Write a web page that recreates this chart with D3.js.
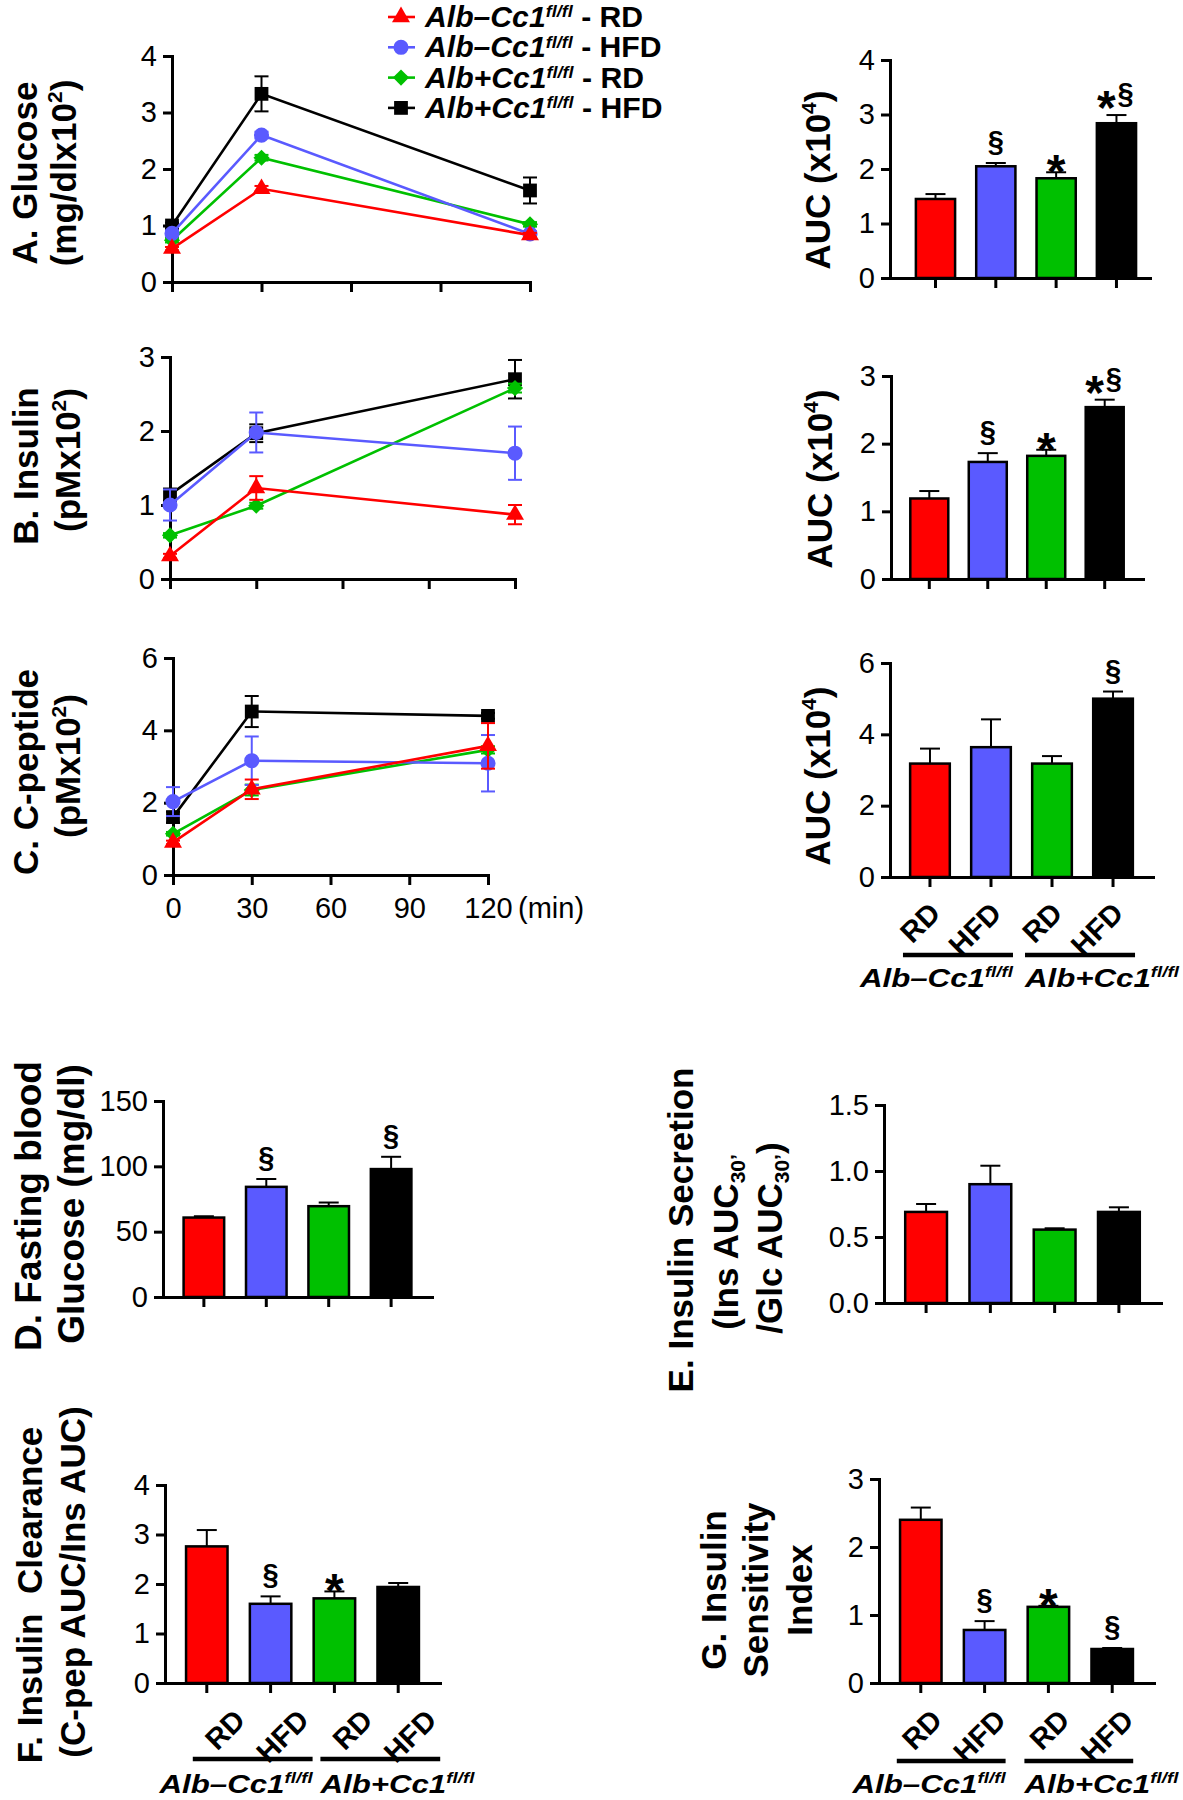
<!DOCTYPE html>
<html><head><meta charset="utf-8">
<script src="https://cdn.jsdelivr.net/npm/d3@7"></script>
<style>
body{margin:0;background:#fff}
svg{display:block;background:#fff}
text{font-family:"Liberation Sans", Arial, Helvetica, sans-serif; white-space:pre}
</style>
</head><body>
<svg id="chart" width="1183" height="1800"></svg>
<script>
// ---------------- DATA ----------------
const times = [0, 30, 120];
const timeTicks = [0, 30, 60, 90, 120];
const seriesGeno = ["Alb–Cc1", "Alb–Cc1", "Alb+Cc1", "Alb+Cc1"];
const seriesDiet = ["RD", "HFD", "RD", "HFD"];
const seriesColors = ["#ff0000", "#5a5aff", "#00c000", "#000000"];
const seriesSymbols = ["triangle", "circle", "diamond", "square"];
const drawOrder = [3, 2, 1, 0];
const groupLabels = ["Alb–Cc1", "Alb+Cc1"];
const groupSup = "fl/fl";

// A. Glucose (mg/dl x10^2)
const glucoseMean = [[0.59, 1.65, 0.83], [0.86, 2.60, 0.85], [0.74, 2.20, 1.02], [1.00, 3.33, 1.62]];
const glucoseSem  = [[0.03, 0.05, 0.04], [0.05, 0.06, 0.05], [0.04, 0.05, 0.04], [0.05, 0.31, 0.23]];
// B. Insulin (pM x10^2)
const insulinMean = [[0.31, 1.23, 0.87], [1.00, 1.98, 1.70], [0.59, 0.99, 2.58], [1.14, 1.97, 2.70]];
const insulinSem  = [[0.03, 0.16, 0.13], [0.21, 0.27, 0.36], [0.03, 0.04, 0.06], [0.08, 0.12, 0.26]];
// C. C-peptide (pM x10^2)
const cpepMean = [[0.90, 2.37, 3.57], [2.03, 3.16, 3.09], [1.14, 2.35, 3.46], [1.60, 4.52, 4.40]];
const cpepSem  = [[0.05, 0.27, 0.63], [0.40, 0.67, 0.78], [0.05, 0.15, 0.10], [0.15, 0.43, 0.08]];

// AUC bars (x10^4)
const aucGlucose = [1.45, 2.05, 1.83, 2.84];
const aucGlucoseSem = [0.09, 0.06, 0.11, 0.15];
const aucGlucoseSig = ["", "§", "*", "*§"];
const aucInsulin = [1.19, 1.73, 1.82, 2.54];
const aucInsulinSem = [0.11, 0.13, 0.09, 0.11];
const aucInsulinSig = ["", "§", "*", "*§"];
const aucCpep = [3.18, 3.64, 3.18, 5.00];
const aucCpepSem = [0.42, 0.78, 0.21, 0.20];
const aucCpepSig = ["", "", "", "§"];
// D. Fasting blood glucose (mg/dl)
const fastingGlucose = [60.8, 84.3, 69.5, 97.9];
const fastingGlucoseSem = [1.0, 6.0, 2.8, 9.4];
const fastingGlucoseSig = ["", "§", "", "§"];
// E. Insulin secretion
const insSecretion = [0.69, 0.90, 0.556, 0.69];
const insSecretionSem = [0.06, 0.14, 0.01, 0.035];
const insSecretionSig = ["", "", "", ""];
// F. Insulin clearance
const insClearance = [2.76, 1.60, 1.71, 1.94];
const insClearanceSem = [0.33, 0.15, 0.14, 0.08];
const insClearanceSig = ["", "§", "*", ""];
// G. Insulin sensitivity index
const insSensitivity = [2.40, 0.78, 1.12, 0.50];
const insSensitivitySem = [0.18, 0.13, 0.015, 0.015];
const insSensitivitySig = ["", "§", "*", "§"];

// ---------------- DRAWING ----------------
const FONT = "'Liberation Sans', Arial, Helvetica, sans-serif";
const TICK_FONT = 29;
const svg = d3.select("#chart");

const diamondType = { draw(ctx, size) { const r = Math.sqrt(size / 2); ctx.moveTo(0, -r); ctx.lineTo(r, 0); ctx.lineTo(0, r); ctx.lineTo(-r, 0); ctx.closePath(); } };
const symbolTypes = { triangle: d3.symbolTriangle, circle: d3.symbolCircle, diamond: diamondType, square: d3.symbolSquare };
const symbolSizes = { triangle: 140, circle: 180, diamond: 130, square: 190 };

function richText(parent, parts, o) {
  let tr = `translate(${o.x},${o.y})`;
  if (o.sx) tr += ` scale(${o.sx},1)`;
  if (o.rot) tr += ` rotate(${o.rot})`;
  const t = parent.append("text").attr("transform", tr)
    .attr("text-anchor", o.anchor || "middle")
    .attr("font-size", o.size).attr("font-weight", o.weight || "bold")
    .attr("font-style", o.italic ? "italic" : "normal")
    .attr("font-family", FONT).attr("fill", "#000");
  let shift = 0;
  const supShift = o.supShift || 0.4;
  parts.forEach(p => {
    const s = t.append("tspan").text(p.t);
    let target = 0;
    if (p.sup) { s.attr("font-size", o.size * 0.6); target = -o.size * supShift; }
    else if (p.sub) { s.attr("font-size", o.size * 0.6); target = o.size * 0.2; }
    if (target !== shift) { s.attr("dy", target - shift); shift = target; }
    if (p.italic !== undefined) s.attr("font-style", p.italic ? "italic" : "normal");
  });
  return t;
}

function styleAxis(sel) {
  sel.attr("font-size", TICK_FONT).attr("font-family", FONT);
  sel.select(".domain").attr("stroke", "#000").attr("stroke-width", 3).attr("stroke-linecap", "square");
  sel.selectAll(".tick line").attr("stroke", "#000").attr("stroke-width", 3);
  sel.selectAll(".tick text").attr("fill", "#000");
}

function lineChart(o) {
  const g = svg.append("g");
  const x = d3.scaleLinear().domain([0, 120]).range([o.x0, o.x1]);
  const y = d3.scaleLinear().domain([0, o.ymax]).range([o.yb, o.yt]);
  g.append("g").attr("transform", `translate(0,${o.yb})`)
    .call(d3.axisBottom(x).tickValues(timeTicks).tickSize(10).tickSizeOuter(0).tickPadding(12)
      .tickFormat(o.xlabels ? d3.format("d") : () => ""))
    .call(styleAxis);
  g.append("g").attr("transform", `translate(${o.x0},0)`)
    .call(d3.axisLeft(y).tickValues(o.yticks).tickSize(9).tickSizeOuter(0).tickPadding(6).tickFormat(d3.format("d")))
    .call(styleAxis);
  if (o.xlabels) {
    g.append("text").attr("x", x(120) + 30).attr("y", o.yb + 43)
      .attr("font-size", TICK_FONT).attr("font-family", FONT).text("(min)");
  }
  const line = d3.line().x(d => x(d.t)).y(d => y(d.v));
  drawOrder.forEach(i => {
    const pts = times.map((t, k) => ({ t, v: o.mean[i][k], e: o.sem[i][k] }));
    const col = seriesColors[i];
    const sg = g.append("g");
    sg.append("path").datum(pts).attr("d", line).attr("fill", "none").attr("stroke", col).attr("stroke-width", 2.6);
    pts.forEach(p => {
      const cx = x(p.t), y1 = y(p.v + p.e), y2 = y(p.v - p.e);
      sg.append("line").attr("x1", cx).attr("x2", cx).attr("y1", y1).attr("y2", y2).attr("stroke", col).attr("stroke-width", 2);
      [y1, y2].forEach(yy => sg.append("line").attr("x1", cx - 7).attr("x2", cx + 7).attr("y1", yy).attr("y2", yy).attr("stroke", col).attr("stroke-width", 2));
    });
    const sym = d3.symbol().type(symbolTypes[seriesSymbols[i]]).size(symbolSizes[seriesSymbols[i]]);
    sg.selectAll("path.pt").data(pts).join("path").attr("class", "pt")
      .attr("transform", d => `translate(${x(d.t)},${y(d.v)})`).attr("d", sym).attr("fill", col);
  });
}

function barChart(o) {
  const g = svg.append("g");
  const x = d3.scaleBand().domain(d3.range(o.vals.length)).range([o.x0, o.x1])
    .paddingInner(0.35).paddingOuter(0.33).align(o.align || 0.5);
  const y = d3.scaleLinear().domain([0, o.ymax]).range([o.yb, o.yt]);
  const bw = x.bandwidth();
  const cx = i => x(i) + bw / 2;
  // error bars (up only)
  o.vals.forEach((v, i) => {
    const yt = y(v + o.sem[i]);
    g.append("line").attr("x1", cx(i)).attr("x2", cx(i)).attr("y1", y(v)).attr("y2", yt).attr("stroke", "#000").attr("stroke-width", 2);
    g.append("line").attr("x1", cx(i) - 10).attr("x2", cx(i) + 10).attr("y1", yt).attr("y2", yt).attr("stroke", "#000").attr("stroke-width", 2);
  });
  g.selectAll("rect").data(o.vals).join("rect")
    .attr("x", (d, i) => x(i)).attr("width", bw)
    .attr("y", d => y(d)).attr("height", d => o.yb - y(d))
    .attr("fill", (d, i) => seriesColors[i]).attr("stroke", "#000").attr("stroke-width", 2.5);
  g.append("g").attr("transform", `translate(0,${o.yb})`)
    .call(d3.axisBottom(x).tickSize(10).tickSizeOuter(0).tickFormat(() => ""))
    .call(styleAxis)
    .call(s => s.selectAll(".tick").attr("transform", (d) => `translate(${cx(d)},0)`));
  g.append("g").attr("transform", `translate(${o.x0},0)`)
    .call(d3.axisLeft(y).tickValues(o.yticks).tickSize(9).tickSizeOuter(0).tickPadding(6).tickFormat(d3.format(o.fmt || "d")))
    .call(styleAxis);
  // significance marks
  o.sig.forEach((s, i) => {
    if (!s) return;
    const et = y(o.vals[i] + o.sem[i]);
    const chars = s.split("");
    const pair = chars.length === 2;
    chars.forEach((c, k) => {
      const dx = pair ? (k === 0 ? -10 : 9) : 0;
      const yy = c === "*" ? (pair ? et + 9 : et + 16) : et - 12;
      g.append("text").attr("x", cx(i) + dx).attr("y", yy)
        .attr("text-anchor", "middle").attr("font-family", FONT).attr("font-weight", "bold")
        .attr("font-size", c === "*" ? 48 : 29).text(c);
    });
  });
  if (o.cats) {
    o.vals.forEach((v, i) => {
      g.append("text").attr("transform", `translate(${cx(i) + o.labDx},${o.yb + o.labDy}) rotate(-45)`)
        .attr("text-anchor", "end").attr("font-family", FONT).attr("font-weight", "bold")
        .attr("font-size", 29).text(seriesDiet[i]);
    });
    [0, 1].forEach(gi => {
      const xa = cx(2 * gi) + o.lineL, xb = cx(2 * gi + 1) + o.lineR, ly = o.yb + o.lineDy;
      g.append("line").attr("x1", xa).attr("x2", xb).attr("y1", ly).attr("y2", ly).attr("stroke", "#000").attr("stroke-width", 4.5);
      richText(g, [{ t: groupLabels[gi] }, { t: groupSup, sup: true }],
        { x: gi === 0 ? xb : xa, y: o.yb + 110, size: 25, italic: true, anchor: gi === 0 ? "end" : "start", sx: 1.25 });
    });
  }
}

// Legend
seriesGeno.forEach((geno, i) => {
  const cy = 17 + i * 30.3;
  const lg = svg.append("g");
  lg.append("line").attr("x1", 388).attr("x2", 415).attr("y1", cy).attr("y2", cy).attr("stroke", seriesColors[i]).attr("stroke-width", 2.6);
  lg.append("path").attr("transform", `translate(401,${cy})`)
    .attr("d", d3.symbol().type(symbolTypes[seriesSymbols[i]]).size(symbolSizes[seriesSymbols[i]])())
    .attr("fill", seriesColors[i]);
  richText(lg, [{ t: geno, italic: true }, { t: "fl/fl", sup: true, italic: true }, { t: " - " + seriesDiet[i], italic: false }],
    { x: 425, y: cy + 10, size: 29, anchor: "start", italic: true, sx: 1.04, supShift: 0.33 });
});

// Line charts
lineChart({ x0: 172, x1: 530, yt: 56, yb: 282, ymax: 4, yticks: [0, 1, 2, 3, 4], mean: glucoseMean, sem: glucoseSem });
lineChart({ x0: 170, x1: 515, yt: 357, yb: 579, ymax: 3, yticks: [0, 1, 2, 3], mean: insulinMean, sem: insulinSem });
lineChart({ x0: 173, x1: 488, yt: 658, yb: 875, ymax: 6, yticks: [0, 2, 4, 6], mean: cpepMean, sem: cpepSem, xlabels: true });

// Bar charts
barChart({ x0: 890, x1: 1150, yt: 60, yb: 278, ymax: 4, yticks: [0, 1, 2, 3, 4], vals: aucGlucose, sem: aucGlucoseSem, sig: aucGlucoseSig, align: 0.65 });
barChart({ x0: 891, x1: 1143, yt: 376, yb: 579, ymax: 3, yticks: [0, 1, 2, 3], vals: aucInsulin, sem: aucInsulinSem, sig: aucInsulinSig });
barChart({ x0: 890, x1: 1153, yt: 663, yb: 877, ymax: 6, yticks: [0, 2, 4, 6], vals: aucCpep, sem: aucCpepSem, sig: aucCpepSig,
  cats: true, labDx: 12, labDy: 38, lineL: -27, lineR: 22, lineDy: 78 });
barChart({ x0: 163, x1: 432, yt: 1101, yb: 1297, ymax: 150, yticks: [0, 50, 100, 150], vals: fastingGlucose, sem: fastingGlucoseSem, sig: fastingGlucoseSig });
barChart({ x0: 884, x1: 1161, yt: 1105, yb: 1303, ymax: 1.5, yticks: [0, 0.5, 1, 1.5], fmt: ".1f", vals: insSecretion, sem: insSecretionSem, sig: insSecretionSig });
barChart({ x0: 165, x1: 440, yt: 1485, yb: 1683, ymax: 4, yticks: [0, 1, 2, 3, 4], vals: insClearance, sem: insClearanceSem, sig: insClearanceSig,
  cats: true, labDx: 40, labDy: 39, lineL: -14, lineR: 42, lineDy: 76 });
barChart({ x0: 879, x1: 1154, yt: 1479, yb: 1683, ymax: 3, yticks: [0, 1, 2, 3], vals: insSensitivity, sem: insSensitivitySem, sig: insSensitivitySig,
  cats: true, labDx: 23, labDy: 39, lineL: -24, lineR: 21, lineDy: 78 });

// Axis titles (rotated)
const vLabels = [
  { x: 37, y: 173, parts: [{ t: "A. Glucose" }] },
  { x: 76, y: 173, parts: [{ t: "(mg/dlx10" }, { t: "2", sup: true }, { t: ")" }] },
  { x: 830, y: 180, parts: [{ t: "AUC (x10" }, { t: "4", sup: true }, { t: ")" }] },
  { x: 38, y: 466, parts: [{ t: "B. Insulin" }] },
  { x: 80, y: 460, parts: [{ t: "(pMx10" }, { t: "2", sup: true }, { t: ")" }] },
  { x: 832, y: 479, parts: [{ t: "AUC (x10" }, { t: "4", sup: true }, { t: ")" }] },
  { x: 38, y: 772, parts: [{ t: "C. C-peptide" }] },
  { x: 80, y: 766, parts: [{ t: "(pMx10" }, { t: "2", sup: true }, { t: ")" }] },
  { x: 830, y: 776, parts: [{ t: "AUC (x10" }, { t: "4", sup: true }, { t: ")" }] },
  { x: 41, y: 1206, size: 37, parts: [{ t: "D. Fasting blood" }] },
  { x: 84, y: 1204, size: 37, parts: [{ t: "Glucose (mg/dl)" }] },
  { x: 693, y: 1230, parts: [{ t: "E. Insulin Secretion" }] },
  { x: 738, y: 1242, parts: [{ t: "(Ins AUC" }, { t: "30’", sub: true }] },
  { x: 782, y: 1238, parts: [{ t: "/Glc AUC" }, { t: "30’", sub: true }, { t: ")" }] },
  { x: 42, y: 1595, parts: [{ t: "F. Insulin  Clearance" }] },
  { x: 85, y: 1582, parts: [{ t: "(C-pep AUC/Ins AUC)" }] },
  { x: 726, y: 1590, parts: [{ t: "G. Insulin" }] },
  { x: 768, y: 1590, parts: [{ t: "Sensitivity" }] },
  { x: 812, y: 1590, parts: [{ t: "Index" }] }
];
vLabels.forEach(l => richText(svg, l.parts, { x: l.x, y: l.y, rot: -90, size: l.size || 35 }));
</script>
</body></html>
